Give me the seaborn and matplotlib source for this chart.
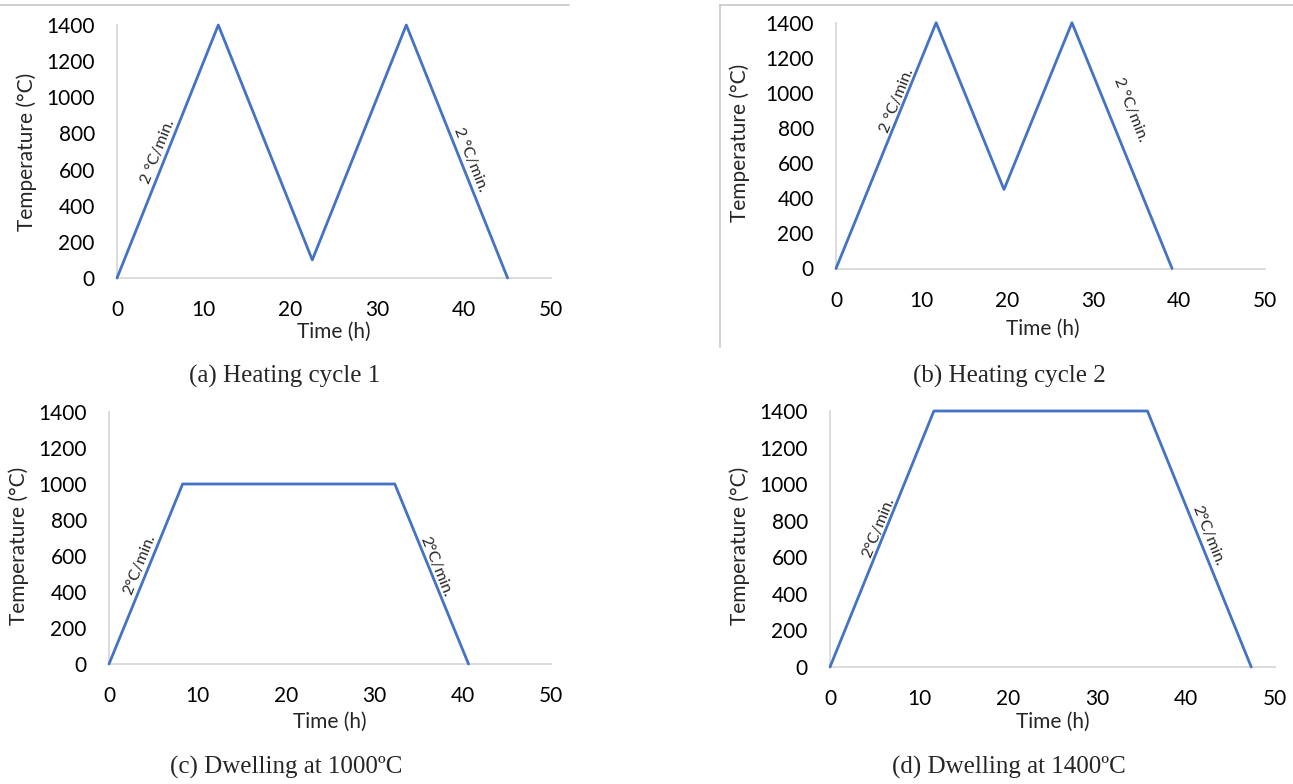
import pandas as pd
import matplotlib
matplotlib.use("Agg")
import matplotlib.pyplot as plt
from matplotlib.lines import Line2D
import seaborn as sns

# Heating schedules (time in h, temperature in degC), 2 degC/min ramps
time_a = [0, 11.67, 22.5, 33.33, 45.0]
temp_a = [0, 1400, 100, 1400, 0]
time_b = [0, 11.67, 19.58, 27.5, 39.17]
temp_b = [0, 1400, 450, 1400, 0]
time_c = [0, 8.33, 32.33, 40.67]
temp_c = [0, 1000, 1000, 0]
time_d = [0, 11.67, 35.67, 47.33]
temp_d = [0, 1400, 1400, 0]

captions = ['(a) Heating cycle 1', '(b) Heating cycle 2',
            '(c) Dwelling at 1000ºC', '(d) Dwelling at 1400ºC']
rate_labels = ['2 °C/min.', '2 °C/min.', '2°C/min.', '2°C/min.']
x_ticks = [0, 10, 20, 30, 40, 50]
y_ticks = [0, 200, 400, 600, 800, 1000, 1200, 1400]

sns.set_style('white')
plt.rcParams['font.family'] = ['Lato', 'DejaVu Sans']

W, H = 1293, 784
fig = plt.figure(figsize=(W / 100, H / 100), dpi=100)


def box(left, right, top, bottom):
    return [left / W, 1 - bottom / H, (right - left) / W, (bottom - top) / H]


def fx(px):
    return px / W


def fy(py):
    return 1 - py / H


# panel geometry in pixels: axes box, ylabel pos, xlabel pos, caption pos
panels = [
    dict(t=time_a, v=temp_a, ax=(117, 551, 25, 278), yl=(27, 152), xl=(334, 332), cap=(285, 376),
         ann=[(4.72, 697, 68), (40.7, 653, -68)]),
    dict(t=time_b, v=temp_b, ax=(836, 1265, 22.7, 268.5), yl=(740, 143), xl=(1043, 329), cap=(1009, 376),
         ann=[(7.1, 954, 68), (34.3, 903, -68)]),
    dict(t=time_c, v=temp_c, ax=(109, 551, 412, 664), yl=(19, 546), xl=(330, 722), cap=(286, 767),
         ann=[(3.5, 550, 68), (37.0, 539, -68)]),
    dict(t=time_d, v=temp_d, ax=(830, 1275, 411, 667), yl=(740, 546), xl=(1053, 722), cap=(1009, 767),
         ann=[(5.5, 760, 68), (42.4, 716, -68)]),
]

for i, p in enumerate(panels):
    ax = fig.add_axes(box(*p['ax']))
    df = pd.DataFrame({'Time (h)': p['t'], 'Temperature': p['v']})
    sns.lineplot(data=df, x='Time (h)', y='Temperature', ax=ax, sort=False,
                 color='#4472C4', linewidth=2, zorder=3, clip_on=False)
    ax.set_xlim(0, 50)
    ax.set_ylim(0, 1400)
    ax.set_xticks(x_ticks)
    ax.set_yticks(y_ticks)
    ax.set_xlabel('')
    ax.set_ylabel('')
    ax.tick_params(axis='both', length=0, labelsize=15, colors='black')
    ax.tick_params(axis='y', pad=16)
    ax.tick_params(axis='x', pad=16)
    sns.despine(ax=ax)
    for s in ['left', 'bottom']:
        ax.spines[s].set_color('#d9d9d9')
        ax.spines[s].set_linewidth(1.3)
    for (x, y, rot) in p['ann']:
        ax.text(x, y, rate_labels[i], rotation=rot, rotation_mode='anchor',
                ha='center', va='center', fontsize=11.5)
    fig.text(fx(p['yl'][0]), fy(p['yl'][1]), 'Temperature (°C)', rotation=90,
             ha='center', va='center', fontsize=15)
    fig.text(fx(p['xl'][0]), fy(p['xl'][1]), 'Time (h)', ha='center', va='center', fontsize=15)
    fig.text(fx(p['cap'][0]), fy(p['cap'][1]), captions[i], ha='center', va='center',
             fontsize=18, family='Liberation Serif')

# light frame lines left over from the source layout
grey = '#c8c8c8'
fig.add_artist(Line2D([fx(0), fx(569)], [fy(5), fy(5)], color=grey, lw=1.2))
fig.add_artist(Line2D([fx(720), fx(1293)], [fy(5), fy(5)], color=grey, lw=1.2))
fig.add_artist(Line2D([fx(720), fx(720)], [fy(5), fy(347)], color=grey, lw=1.2))

fig.savefig('out.png', dpi=100)
